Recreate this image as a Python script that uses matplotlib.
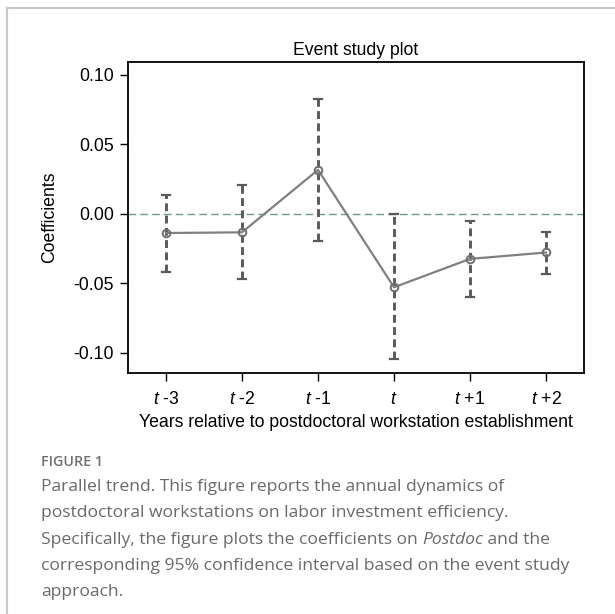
import numpy as np
import matplotlib
matplotlib.use('Agg')
import matplotlib.pyplot as plt
from matplotlib.lines import Line2D

plt.rcParams['font.family'] = ['Liberation Sans', 'DejaVu Sans']
plt.rcParams['mathtext.fontset'] = 'custom'
plt.rcParams['mathtext.rm'] = 'Liberation Sans'
plt.rcParams['mathtext.it'] = 'Liberation Sans:italic'

# event-study estimates
periods  = [-3, -2, -1, 0, 1, 2]
xlabels  = [r'$\mathit{t}$ -3', r'$\mathit{t}$ -2', r'$\mathit{t}$ -1',
            r'$\mathit{t}$', r'$\mathit{t}$ +1', r'$\mathit{t}$ +2']
coef     = [-0.0139, -0.0134, 0.0315, -0.0529, -0.0325, -0.0279]
ci_low   = [-0.0416, -0.0473, -0.0199, -0.1047, -0.0600, -0.0437]
ci_high  = [0.0136, 0.0208, 0.0824, 0.0000, -0.0056, -0.0129]
yticks   = [0.10, 0.05, 0.00, -0.05, -0.10]

W, H = 615, 614
fs = 12.7
fig = plt.figure(figsize=(W / 100, H / 100), dpi=100)

# frame of the figure panel (only top and left visible)
fig.add_artist(Line2D([7 / W, 7 / W], [0, 1 - 8 / H], transform=fig.transFigure,
                      color='#c8c8c8', lw=1.5))
fig.add_artist(Line2D([7 / W, 1], [1 - 8 / H, 1 - 8 / H], transform=fig.transFigure,
                      color='#c8c8c8', lw=1.5))

ax = fig.add_axes([128 / W, 1 - 373 / H, (584 - 128) / W, (373 - 62) / H])

ax.axhline(0, color='#6e9a8c', lw=1, ls=(0, (5.5, 3)), zorder=1)

# confidence intervals
for x, lo, hi in zip(periods, ci_low, ci_high):
    ax.plot([x, x], [lo, hi], color='#595959', lw=2.1, ls=(0, (2.7, 1.5)), zorder=2)
    ax.plot([x - 0.05, x + 0.05], [lo, lo], color='#595959', lw=1.6, zorder=2)
    ax.plot([x - 0.05, x + 0.05], [hi, hi], color='#595959', lw=1.6, zorder=2)

ax.plot(periods, coef, color='#808080', lw=1.6, marker='o', ms=5.5,
        mfc='none', mec='#707070', mew=1.4, zorder=3)

ax.set_xlim(-3.5, 2.5)
ax.set_ylim(-0.1145, 0.109)
ax.set_xticks(periods)
ax.set_xticklabels(xlabels)
ax.set_yticks(yticks)
ax.set_yticklabels([f'{v:.2f}' for v in yticks])
ax.tick_params(labelsize=fs, length=6, width=1, color='black')
ax.tick_params(axis='x', pad=7)
ax.tick_params(axis='y', pad=4)
for s in ax.spines.values():
    s.set_linewidth(1.3)
ax.set_title('Event study plot', fontsize=fs, pad=5)
ax.set_ylabel('Coefficients', fontsize=fs, labelpad=11)
ax.set_xlabel('Years relative to postdoctoral workstation establishment', fontsize=fs, labelpad=4)

# caption
cap_font = ['Open Sans', 'DejaVu Sans']
cap_col = '#6a6a6a'
cap_fs = 12.6
x_cap = 41
fig.text(x_cap / W, 1 - 462 / H, 'FIGURE 1', family=cap_font, fontsize=10.3,
         color='#707070', weight='semibold', va='center')
lines = ['Parallel trend. This figure reports the annual dynamics of',
         'postdoctoral workstations on labor investment efficiency.',
         None,
         'corresponding 95% confidence interval based on the event study',
         'approach.']
ys = [487, 513, 540, 566, 592]
for txt, y in zip(lines, ys):
    if txt is not None:
        fig.text(x_cap / W, 1 - y / H, txt, family=cap_font, fontsize=cap_fs,
                 color=cap_col, va='center')

# line with italic word
renderer = fig.canvas.get_renderer()
x0 = x_cap
for part, style in [('Specifically, the figure plots the coefficients on ', 'normal'),
                    ('Postdoc', 'italic'), (' and the', 'normal')]:
    t = fig.text(x0 / W, 1 - ys[2] / H, part, family=cap_font, fontsize=cap_fs,
                 color=cap_col, va='center', style=style)
    x0 += t.get_window_extent(renderer).width

fig.savefig('out.png', dpi=100)
